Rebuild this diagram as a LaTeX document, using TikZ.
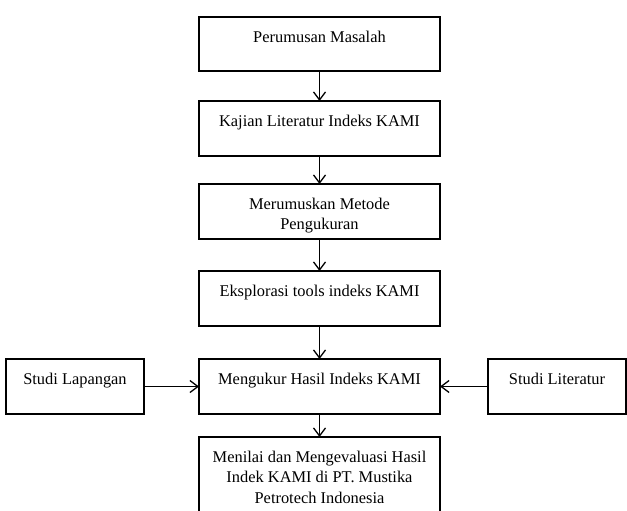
\documentclass[tikz,border=0pt]{standalone}
\usepackage{fontspec}
\setmainfont{Liberation Serif}
\usetikzlibrary{arrows.meta}
\newcommand{\bxt}[3]{\parbox[c][#2][t]{#1}{\centering\vspace*{11pt}\strut #3\par}}
\tikzset{
  box/.style={draw, line width=1.3pt, inner sep=0pt, outer sep=0pt, rectangle},
  arr/.style={line width=1.3pt, -{Straight Barb[length=8pt,width=12pt,line width=1.3pt]}}
}
\begin{document}
\begin{tikzpicture}[x=1pt,y=-1pt,font=\fontsize{16.4}{20.5}\selectfont]
\useasboundingbox (0,0) rectangle (627,511);
\clip (0,0) rectangle (627,511);
\node[box] (b1) at (319.5,44) {\bxt{241pt}{54pt}{Perumusan Masalah}};
\node[box] (b2) at (319.5,128.5) {\bxt{241pt}{55pt}{Kajian Literatur Indeks KAMI}};
\node[box] (b3) at (319.5,211.5) {\bxt{241pt}{55pt}{Merumuskan Metode\\Pengukuran}};
\node[box] (b4) at (319.5,298.5) {\bxt{241pt}{55pt}{Eksplorasi tools indeks KAMI}};
\node[box] (b5) at (319.5,386.5) {\bxt{241pt}{55pt}{Mengukur Hasil Indeks KAMI}};
\node[box] (sl) at (75,386.5) {\bxt{138pt}{55pt}{Studi Lapangan}};
\node[box] (st) at (557,386.5) {\bxt{138pt}{55pt}{Studi Literatur}};
\node[box] (b6) at (319.5,484) {\bxt{241pt}{94pt}{Menilai dan Mengevaluasi Hasil\\Indek KAMI di PT. Mustika\\Petrotech Indonesia}};
\draw[arr] (b1) -- (b2);
\draw[arr] (b2) -- (b3);
\draw[arr] (b3) -- (b4);
\draw[arr] (b4) -- (b5);
\draw[arr] (b5) -- (b6);
\draw[arr] (sl) -- (b5);
\draw[arr] (st) -- (b5);
\end{tikzpicture}
\end{document}
